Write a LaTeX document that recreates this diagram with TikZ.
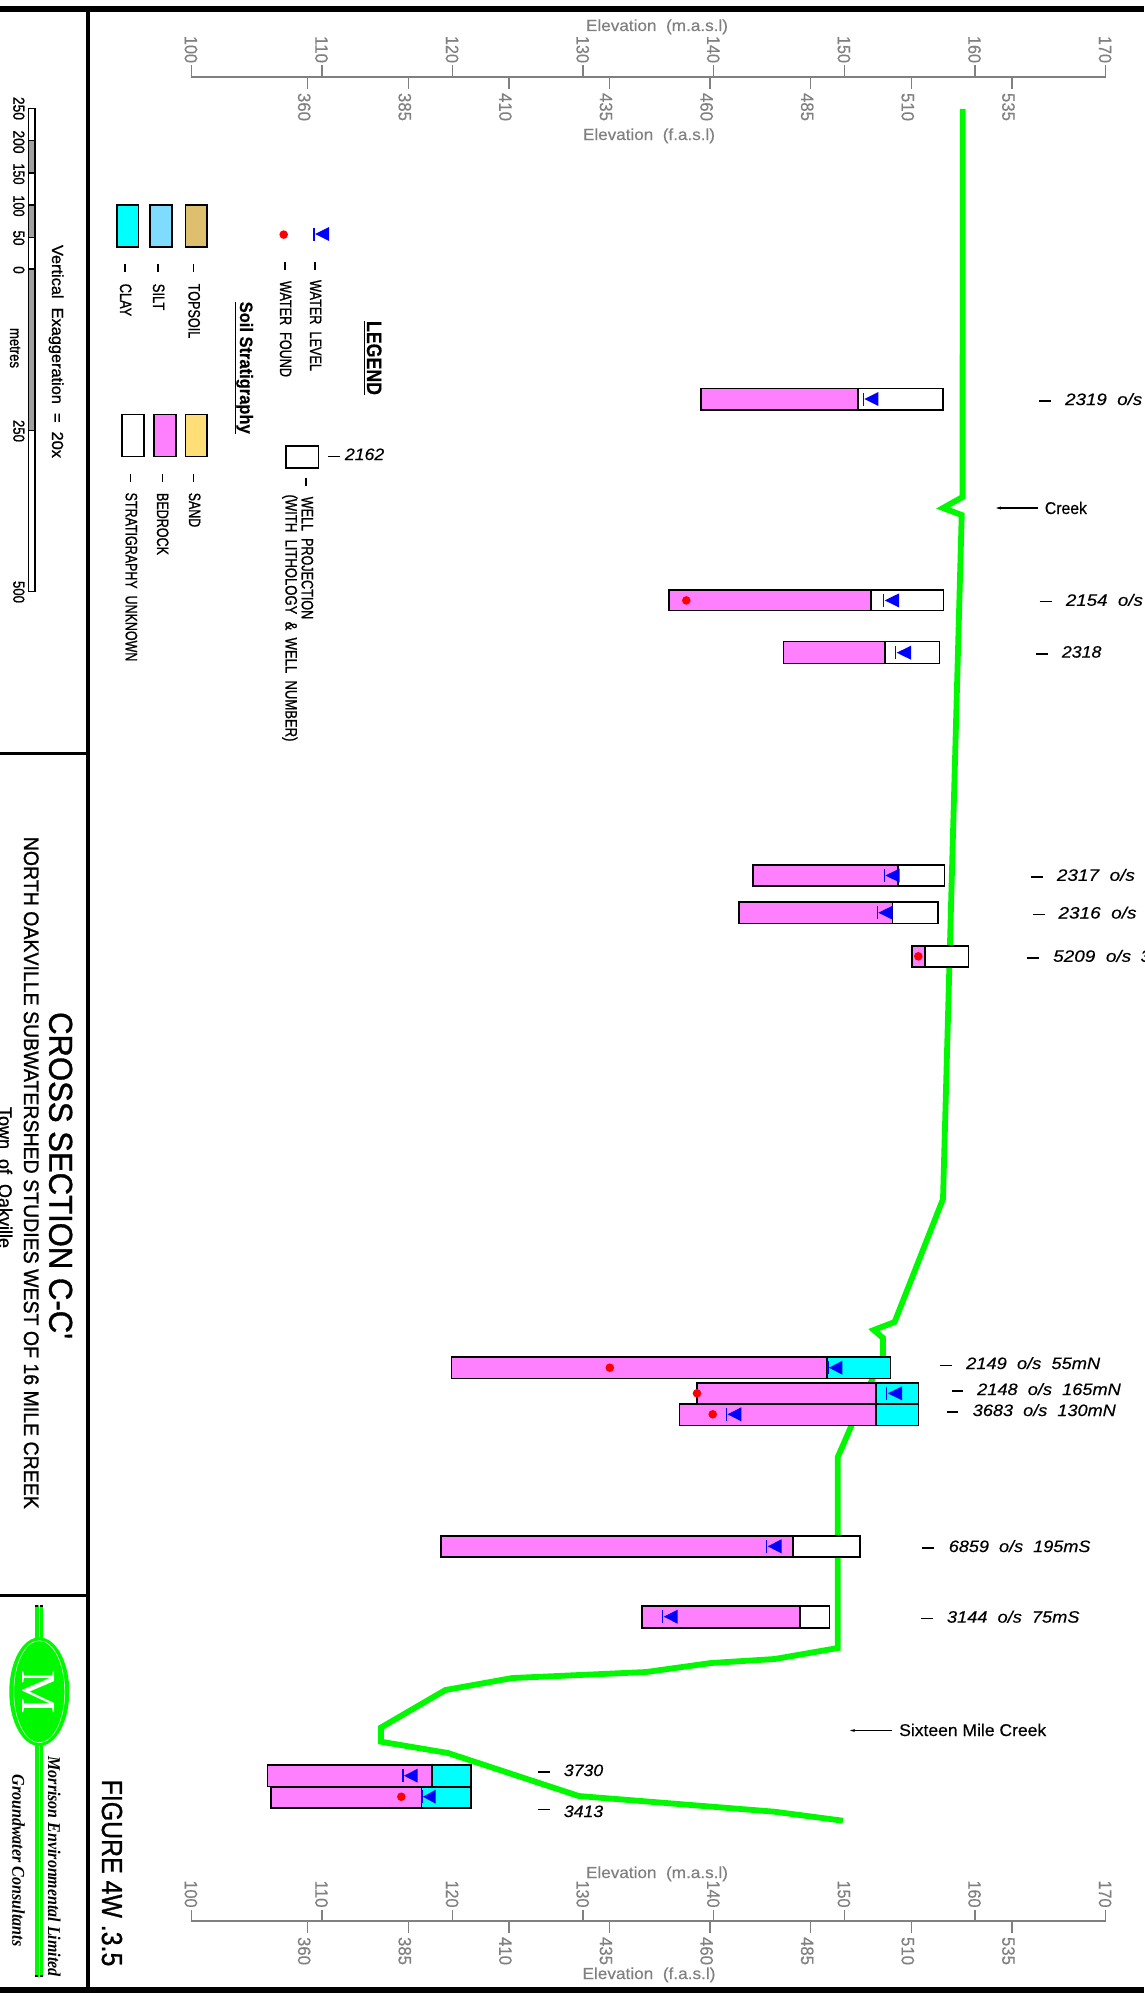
\documentclass[tikz,border=0pt]{standalone}
\usepackage{graphicx}
\usepackage{fontspec}
\usetikzlibrary{arrows.meta}
\setmainfont[FakeBold=0.3]{Liberation Sans}
\newfontfamily\hvy[FakeBold=1.1]{Liberation Sans}
\newfontfamily\serifface{Liberation Serif}
\definecolor{gndgreen}{HTML}{00F800}
\definecolor{rockpink}{HTML}{FF80FF}
\definecolor{claycyan}{HTML}{00FFFF}
\definecolor{siltblue}{HTML}{7FDBFF}
\definecolor{topsoiltan}{HTML}{DDBF6E}
\definecolor{sandyellow}{HTML}{FFDD77}
\definecolor{axisgray}{HTML}{808080}
\definecolor{bargray}{HTML}{A0A0A0}
\newcounter{tn}
\newcommand\fw[3]{\resizebox{#1pt}{\height}{\fontsize{#2}{#2}\selectfont #3}}
% rotated text: baseline x, centre y, width, size, text
\newcommand\rtx[6][black]{\stepcounter{tn}\node[rtxt,text=#1] (r\thetn) at (#2,#3) {\fw{#4}{#5}{#6}};}
% horizontal text
\newcommand\hzt[6][black]{\stepcounter{tn}\node[htxt,text=#1] (h\thetn) at (#2,#3) {\fw{#4}{#5}{#6}};}
% well label: dash x1,x2,y ; text x, baseline, width, text
\newcommand\welllabel[7]{\draw[tickdash] (#1,#3) -- (#2,#3);\stepcounter{tn}\node[wtxt] (w\thetn) at (#4,#5) {\fw{#6}{16.5}{\itshape #7}};}
% well: xleft, xsplit, xright, ytop, ybot, colour of right part
\newcommand\well[6]{\draw[box,fill=rockpink] (#1,#4) rectangle (#2,#5);\draw[box,fill=#6] (#2,#4) rectangle (#3,#5);}
\newcommand\wlev[3]{\fill[blue] (#1+1,#3) -- (#2,#3-7) -- (#2,#3+7) -- cycle;\draw[blue,line width=1.2pt] (#1,#3-6.5) -- (#1,#3+6.5);}
\newcommand\wdot[2]{\fill[red] (#1,#2) circle (4.3);}
\newcommand\vdsh[3]{\draw[tickdash] (#1,#2) -- (#1,#3);}
\tikzset{
  rtxt/.style={rotate=-90,anchor=base,inner sep=0pt},
  htxt/.style={anchor=base,inner sep=0pt},
  wtxt/.style={anchor=base west,inner sep=0pt},
  box/.style={draw=black,line width=1.6pt},
  tickdash/.style={black,line width=1.5pt},
  axis/.style={axisgray,line width=1.6pt},
  ground/.style={gndgreen,line width=5.8pt,line join=miter},
  frame/.style={black,line width=6pt},
  frameb/.style={black,line width=4pt},
  framec/.style={black,line width=3pt},
  leader/.style={black,line width=1.2pt,-{Stealth[length=5pt,width=3pt]}},
}
\begin{document}
\begin{tikzpicture}[x=1pt,y=-1pt]
\useasboundingbox (0,0) rectangle (1144,2007);
\fill[white] (0,0) rectangle (1144,2007);
% frame
\draw[frameb] (88,9) -- (88,1990);
\draw[framec] (0,753.5) -- (88,753.5);
\draw[framec] (0,1595) -- (88,1595);
\draw[frame] (0,9) -- (1144,9);
\draw[frame] (0,1990) -- (1144,1990);
% ground surface
\draw[ground] (962.7,109) -- (962.6,497) -- (943,508) -- (961.7,515) -- (943,1199) -- (894.6,1322) -- (873.8,1330) -- (883,1338) -- (883,1357) -- (872,1380) -- (851.7,1425) -- (837.8,1457) -- (837.8,1648) -- (774.6,1659) -- (710.9,1663) -- (646.2,1672) -- (512.3,1678) -- (445.4,1690) -- (381,1727.5) -- (381,1741.7) -- (448,1753) -- (578.8,1796) -- (774.7,1811.7) -- (842.9,1820.7);
% wells
\well{700.7}{858}{942.7}{388.6}{410}{white}
\well{669}{871}{943.3}{589.8}{610.6}{white}
\well{783.3}{885}{939.3}{641.6}{663.3}{white}
\well{752.7}{897.7}{944.3}{864.9}{886}{white}
\well{738.7}{892.3}{937.7}{902}{923.3}{white}
\well{911.7}{925}{968.3}{945.7}{967}{white}
\well{451.4}{827.2}{890.4}{1357}{1378.3}{claycyan}
\well{697}{876}{918.6}{1382.7}{1403.7}{claycyan}
\well{679.5}{876}{918.6}{1403.7}{1425.3}{claycyan}
\well{440.8}{793}{860}{1535.7}{1557}{white}
\well{642}{800}{829.5}{1606}{1628}{white}
\well{267.3}{432}{470.7}{1765}{1786.3}{claycyan}
\well{270.7}{421.3}{470.7}{1786.7}{1807.7}{claycyan}
% water levels
\wlev{863.3}{878.3}{399}
\wlev{883.7}{899}{600.4}
\wlev{895.7}{911}{652.7}
\wlev{884.3}{899.7}{875.5}
\wlev{877.3}{892.7}{912.7}
\wlev{828}{842.4}{1367.7}
\wlev{886.8}{902}{1393.3}
\wlev{726.6}{741.3}{1414.3}
\wlev{766.7}{781.5}{1546.3}
\wlev{662.8}{677.6}{1616.7}
\wlev{403}{417.7}{1775.7}
\wlev{422}{435.7}{1796.7}
% water found
\wdot{686.3}{600.4}
\wdot{918.3}{956.3}
\wdot{609.8}{1367.7}
\wdot{697}{1393.3}
\wdot{712.7}{1414.3}
\wdot{401.3}{1796.7}
% well labels
\welllabel{1039}{1050.7}{400.8}{1065}{405}{77}{2319~~o/s}
\welllabel{1039.7}{1051.7}{601.6}{1065.7}{605.8}{77}{2154~~o/s}
\welllabel{1036}{1047.7}{653.9}{1061.7}{657.6}{39.5}{2318}
\welllabel{1030.7}{1042.7}{877}{1056.7}{880.8}{78}{2317~~o/s}
\welllabel{1033}{1044.7}{914.3}{1058.3}{918.5}{78}{2316~~o/s}
\welllabel{1027.3}{1039}{958}{1053}{961.8}{78}{5209~~o/s}
\node[wtxt] (w5209b) at (1140.5,961.8) {\fontsize{16.5}{16.5}\selectfont\itshape 3};
\welllabel{940.3}{952.3}{1365.3}{966}{1369}{134}{2149~~o/s~~55mN}
\welllabel{951.9}{963.4}{1391}{977}{1395}{143.6}{2148~~o/s~~165mN}
\welllabel{946.8}{958.3}{1412}{972.6}{1416}{143}{3683~~o/s~~130mN}
\welllabel{922.3}{933.9}{1548}{948.6}{1552}{141.7}{6859~~o/s~~195mS}
\welllabel{920.9}{932.5}{1618.7}{946.8}{1622.6}{132.5}{3144~~o/s~~75mS}
\welllabel{538}{550}{1772}{563.7}{1776}{39.3}{3730}
\welllabel{538}{550}{1809.3}{563.7}{1817}{39.3}{3413}
% creek labels
\node[wtxt] (creek) at (1044.7,514) {\fw{42}{17}{Creek}};
\coordinate (creektip) at (996,508);
\draw[leader] (1038.3,508) -- (creektip);
\node[wtxt] (sixteen) at (899,1736) {\fw{147}{17}{Sixteen~Mile~Creek}};
\coordinate (sixteentip) at (850,1730.5);
\draw[leader] (892,1730.5) -- (sixteentip);
% axes
\foreach \ya/\yu/\yd/\ymt/\yft in {77/65/89/49.5/107, 1921/1910/1933/1894/1951}{
  \draw[axis] (191.2,\ya) -- (1105.5,\ya);
  \foreach \i in {0,...,7}{
    \pgfmathsetmacro\xt{191.2+130.6*\i}
    \pgfmathtruncatemacro\lab{100+10*\i}
    \draw[axis,line width=1.4pt] (\xt,\ya) -- (\xt,\yu);
    \rtx[axisgray]{\xt-6.5}{\ymt}{27}{18}{\lab}
  }
  \foreach \i in {0,...,7}{
    \pgfmathsetmacro\xt{307.7+100.6*\i}
    \pgfmathtruncatemacro\lab{360+25*\i}
    \draw[axis,line width=1.4pt] (\xt,\ya) -- (\xt,\yd);
    \rtx[axisgray]{\xt-9.7}{\yft}{28}{18}{\lab}
  }
}
\hzt[axisgray]{657}{31}{142}{16}{Elevation~~(m.a.s.l)}
\hzt[axisgray]{649}{140}{132}{16}{Elevation~~(f.a.s.l)}
\hzt[axisgray]{657}{1878}{142}{16}{Elevation~~(m.a.s.l)}
\hzt[axisgray]{649}{1979}{133}{16}{Elevation~~(f.a.s.l)}
% legend
\rtx{367}{358}{74}{21}{\bfseries LEGEND}
\draw[black,line width=1pt] (364.3,321) -- (364.3,395);
\wlev{314}{329}{234}
\wdot{283.7}{234.6}
\vdsh{315}{262}{270}
\rtx{310}{325.5}{91}{16.5}{\hvy WATER~~LEVEL}
\vdsh{285}{262}{270}
\rtx{280}{329}{96}{16.5}{\hvy WATER~~FOUND}
\draw[box,fill=white] (286,446) rectangle (318.3,468);
\draw[tickdash] (328,456.6) -- (340,456.6);
\hzt{364.6}{460}{39.3}{16.5}{\itshape 2162}
\vdsh{306}{477.5}{486}
\rtx{301.7}{558}{122.5}{16.5}{\hvy WELL~~PROJECTION}
\rtx{285.5}{618}{247}{16.5}{\hvy (WITH~~LITHOLOGY~~\&~~WELL~~NUMBER)}
\rtx{240}{367.7}{132}{18}{\bfseries Soil Stratigraphy}
\draw[black,line width=1pt] (235,301.5) -- (235,433.8);
\draw[box,fill=topsoiltan] (185.3,205) rectangle (207,247);
\draw[box,fill=siltblue] (149.7,205) rectangle (171.7,247);
\draw[box,fill=claycyan] (116.7,205) rectangle (138.3,247);
\draw[box,fill=sandyellow] (185.3,414.4) rectangle (207,456.6);
\draw[box,fill=rockpink] (153.7,414.4) rectangle (175.7,456.6);
\draw[box,fill=white] (122,414.4) rectangle (144,456.6);
\vdsh{193.7}{264}{272}
\rtx{188.5}{311}{54.5}{16.5}{\hvy TOPSOIL}
\vdsh{158}{264}{272}
\rtx{153}{297}{26.5}{16.5}{\hvy SILT}
\vdsh{125}{264}{272}
\rtx{120}{300}{32.5}{16.5}{\hvy CLAY}
\vdsh{193.7}{474}{482}
\rtx{189}{510}{34.4}{16.5}{\hvy SAND}
\vdsh{162.3}{474}{482}
\rtx{157}{524}{62}{16.5}{\hvy BEDROCK}
\vdsh{130.3}{474}{482}
\rtx{125.7}{577}{168.7}{16.5}{\hvy STRATIGRAPHY~~UNKNOWN}
% scale bar
\foreach \ya/\yb/\c in {108.6/140.6/white,140.6/173/bargray,173/205/white,205/237.5/bargray,237.5/269/white,269/430.4/bargray,430.4/591.4/white}{
  \draw[black,line width=1.2pt,fill=\c] (28.3,\ya) rectangle (35,\yb);
}
\rtx{13.3}{108.5}{23}{16}{\hvy 250}
\rtx{13.3}{142}{23}{16}{\hvy 200}
\rtx{13.3}{174}{21}{16}{\hvy 150}
\rtx{13.3}{206}{21}{16}{\hvy 100}
\rtx{13.3}{238}{15}{16}{\hvy 50}
\rtx{13.3}{270}{7.5}{16}{\hvy 0}
\rtx{13.3}{431}{22}{16}{\hvy 250}
\rtx{13.3}{592}{22}{16}{\hvy 500}
\rtx{10}{348}{40}{16}{\hvy metres}
\rtx{52}{351.5}{213}{16}{\hvy Vertical~~Exaggeration~~=~~20x}
% titles
\rtx{49.3}{1175.6}{327}{33}{\hvy CROSS SECTION C-C'}
\rtx{24}{1172.8}{672}{21}{\hvy NORTH OAKVILLE SUBWATERSHED STUDIES WEST OF 16 MILE CREEK}
\rtx{-1.5}{1177.5}{141}{19}{\hvy Town~~of~~Oakville}
\rtx{102}{1873}{186.7}{29}{\hvy FIGURE 4W .3.5}
% logo
\fill[gndgreen] (35,1605) rectangle (43.3,1977);
\draw[white,line width=.35pt] (39.2,1605) -- (39.2,1977);
\fill[black] (35,1605) rectangle (37.5,1607);
\fill[black] (39.8,1605) rectangle (43.3,1607);
\fill[black] (35,1975) rectangle (37.5,1977);
\fill[black] (39.8,1975) rectangle (43.3,1977);
\fill[gndgreen] (39.3,1691.7) ellipse [x radius=30,y radius=54.3];
\draw[white,line width=.5pt] (39.3,1691.7) ellipse [x radius=25.5,y radius=51];
\node[rotate=-90,inner sep=0pt,text=white] (logoM) at (39,1692) {\fontsize{49}{49}\selectfont\serifface M};
\rtx{48}{1866.7}{220}{18}{\serifface\bfseries\itshape Morrison Environmental Limited}
\rtx{12.5}{1860.4}{172}{18}{\serifface\bfseries\itshape Groundwater Consultants}
\end{tikzpicture}
\end{document}
